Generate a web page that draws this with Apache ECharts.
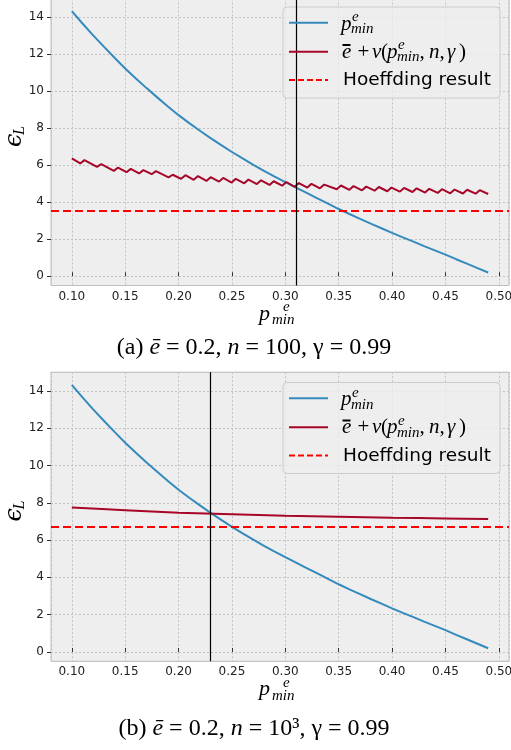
<!DOCTYPE html>
<html><head><meta charset="utf-8">
<script src="https://cdn.jsdelivr.net/npm/echarts@6/dist/echarts.min.js"></script>
<style>html,body{margin:0;padding:0;background:#fff}#c{width:511px;height:750px}</style>
</head><body><div id="c"></div>
<script>
// ---- data ----
const blueX = [0.10,0.11,0.12,0.13,0.14,0.15,0.16,0.17,0.18,0.19,0.20,0.21,0.22,0.23,0.24,0.25,0.26,0.27,0.28,0.29,0.30,0.31,0.32,0.33,0.34,0.35,0.36,0.37,0.38,0.39,0.40,0.41,0.42,0.43,0.44,0.45,0.46,0.47,0.48,0.49];
const blueY = [14.32,13.65,13.01,12.40,11.80,11.22,10.68,10.16,9.66,9.17,8.70,8.27,7.86,7.46,7.08,6.71,6.36,6.02,5.69,5.38,5.08,4.79,4.50,4.21,3.92,3.63,3.36,3.10,2.84,2.59,2.34,2.10,1.87,1.63,1.40,1.17,0.92,0.68,0.44,0.20];

// (a) n = 100 : zig-zag vertices
const redAX = [0.1000,0.1079,0.1118,0.1236,0.1276,0.1394,0.1433,0.1512,0.1552,0.1630,0.1670,0.1748,0.1788,0.1906,0.1945,0.2024,0.2064,0.2142,0.2182,0.2261,0.2300,0.2379,0.2418,0.2497,0.2536,0.2615,0.2655,0.2733,0.2773,0.2852,0.2891,0.2970,0.3009,0.3088,0.3127,0.3206,0.3245,0.3324,0.3364,0.3482,0.3521,0.3600,0.3639,0.3718,0.3758,0.3836,0.3876,0.3955,0.3994,0.4073,0.4112,0.4191,0.4230,0.4309,0.4348,0.4427,0.4467,0.4545,0.4585,0.4664,0.4703,0.4782,0.4821,0.4900];
const redAY = [6.36,6.09,6.27,5.91,6.05,5.69,5.87,5.62,5.80,5.55,5.73,5.51,5.68,5.34,5.48,5.26,5.46,5.21,5.41,5.15,5.35,5.11,5.31,5.06,5.26,5.02,5.22,4.98,5.18,4.93,5.13,4.89,5.09,4.83,5.03,4.79,4.99,4.75,4.95,4.70,4.90,4.67,4.87,4.64,4.84,4.62,4.82,4.59,4.79,4.57,4.77,4.55,4.75,4.52,4.72,4.50,4.70,4.48,4.68,4.47,4.67,4.46,4.65,4.44];

// (b) n = 10^3
const redBX = [0.10,0.15,0.20,0.25,0.30,0.35,0.40,0.45,0.49];
const redBY = [7.75,7.60,7.47,7.39,7.31,7.25,7.20,7.16,7.13];

const hoeffA = 3.55, hoeffB = 6.74;   // Hoeffding result
const vlineA = 0.31, vlineB = 0.231;  // vertical markers
const legendNames = ['p_min^e', 'e + v(p_min^e, n, γ)', 'Hoeffding result'];
const captionA = ['(a) ', 'ē', ' = 0.2, ', 'n', ' = 100, γ = 0.99'];
const captionB = ['(b) ', 'ē', ' = 0.2, ', 'n', ' = 10³, γ = 0.99'];

const BLUE = '#348ABD', DRED = '#A60628', RED = '#ff0000';
const SERIF = '"Liberation Serif"';
const zip = (a, b) => a.map((v, i) => [v, b[i]]);

function xAxisCfg(gi) {
  return {
    type: 'value', gridIndex: gi, min: 0.0805, max: 0.5095, minInterval: 0.05, maxInterval: 0.05,
    axisLine: { show: false },
    axisTick: { show: true, inside: true, length: 4, lineStyle: { color: '#333' } },
    axisLabel: { interval: 0, showMinLabel: false, showMaxLabel: false, margin: 5, hideOverlap: false,
      fontFamily: 'DejaVu Sans', fontSize: 12, color: '#222', formatter: v => v.toFixed(2) },
    splitLine: { show: true, lineStyle: { color: '#c2c2c2', width: 1, type: [2, 2] } }
  };
}
function yAxisCfg(gi) {
  return {
    type: 'value', gridIndex: gi, min: -0.5, max: 15, minInterval: 2, maxInterval: 2,
    axisLine: { show: false },
    axisTick: { show: true, inside: false, length: 4, lineStyle: { color: '#333' } },
    axisLabel: { interval: 0, showMinLabel: false, showMaxLabel: false, margin: 7,
      fontFamily: 'DejaVu Sans', fontSize: 12, color: '#222', formatter: v => String(Math.round(v)) },
    splitLine: { show: true, lineStyle: { color: '#c2c2c2', width: 1, type: [2, 2] } }
  };
}
function markLines(h, v) {
  return {
    silent: true, symbol: ['none', 'none'], label: { show: false }, animation: false,
    data: [
      { yAxis: h, lineStyle: { color: RED, width: 2, type: [8, 4] } },
      { xAxis: v, lineStyle: { color: '#000', width: 1.2, type: 'solid' } }
    ]
  };
}

// --- graphic helpers (legend, labels, captions) ---
function T(x, y, text, font, extra) {
  return Object.assign({ type: 'text', x: x, y: y, z: 10, silent: true,
    style: { text: text, font: font, fill: '#000', align: 'left', verticalAlign: 'middle' } }, extra || {});
}
function legendEls(dy) {
  const e = [];
  e.push({ type: 'rect', z: 1, silent: true, shape: { x: 283, y: 7 + dy, width: 217, height: 91, r: 4 },
    style: { fill: 'rgba(238,238,238,0.8)', stroke: '#cccccc', lineWidth: 1 } });
  const rows = [[22.7, BLUE, null], [51.7, DRED, null], [80, RED, [6, 3]]];
  rows.forEach(r => e.push({ type: 'line', z: 10, silent: true, shape: { x1: 289, y1: r[0] + dy, x2: 328, y2: r[0] + dy },
    style: { stroke: r[1], lineWidth: 2, lineDash: r[2] } }));
  const I = 'italic 21px ' + SERIF, R = '21px ' + SERIF, S = 'italic 15px ' + SERIF;
  // row 1: p^e_min
  e.push(T(341, 24 + dy, 'p', I));
  e.push(T(352, 17.5 + dy, 'e', S));
  e.push(T(351, 29.5 + dy, 'min', S));
  // row 2: e-bar + v(p^e_min, n, γ)
  e.push(T(342, 52 + dy, 'e', I));
  e.push({ type: 'rect', z: 10, silent: true, shape: { x: 342.5, y: 44 + dy, width: 8, height: 2 }, style: { fill: '#000' } });
  e.push(T(357.5, 52 + dy, '+', R));
  e.push(T(372, 52 + dy, 'v', I));
  e.push(T(381, 52 + dy, '(', R));
  e.push(T(387, 52 + dy, 'p', I));
  e.push(T(398, 45.5 + dy, 'e', S));
  e.push(T(397, 57.5 + dy, 'min', S));
  e.push(T(419.5, 52 + dy, ',', R));
  e.push(T(429, 52 + dy, 'n', I));
  e.push(T(439.5, 52 + dy, ',', R));
  e.push(T(447, 52 + dy, 'γ', I));
  e.push(T(459, 52 + dy, ')', R));
  // row 3
  e.push(T(343, 80.5 + dy, legendNames[2], '18.5px "DejaVu Sans"'));
  return e;
}
function xLabelEls(dy) {
  return [
    T(259, 314 + dy, 'p', 'italic 22px ' + SERIF),
    T(283, 307 + dy, 'e', 'italic 15px ' + SERIF),
    T(272, 320 + dy, 'min', 'italic 15px ' + SERIF)
  ];
}
function yLabelEls(dy) {
  return [
    T(14.5, 147 + dy, 'ϵ', 'italic 24px "DejaVu Serif"', { rotation: Math.PI / 2 }),
    T(20, 135 + dy, 'L', 'italic 16px ' + SERIF, { rotation: Math.PI / 2 })
  ];
}
function captionEl(parts, y) {
  const txt = parts.map((p, i) => (i === 1 || i === 3) ? '{i|' + p + '}' : '{n|' + p + '}').join('');
  return { type: 'text', x: 254, y: y, z: 10, silent: true,
    style: { text: txt, align: 'center', verticalAlign: 'middle', fill: '#000',
      rich: { n: { font: '24px ' + SERIF, fill: '#000' }, i: { font: 'italic 24px ' + SERIF, fill: '#000' } } } };
}

const gridBase = { left: 51, width: 458, show: true, backgroundColor: '#eeeeee', borderColor: '#bcbcbc', borderWidth: 1,
  containLabel: false, outerBoundsMode: 'none' };
const option = {
  animation: false,
  backgroundColor: '#ffffff',
  grid: [
    Object.assign({ top: -1.5, height: 287 }, gridBase),
    Object.assign({ top: 372.2, height: 289.1 }, gridBase)
  ],
  xAxis: [xAxisCfg(0), xAxisCfg(1)],
  yAxis: [yAxisCfg(0), yAxisCfg(1)],
  series: [
    { name: legendNames[0], type: 'line', xAxisIndex: 0, yAxisIndex: 0, data: zip(blueX, blueY), showSymbol: false,
      lineStyle: { color: BLUE, width: 2 }, itemStyle: { color: BLUE } },
    { name: legendNames[1], type: 'line', xAxisIndex: 0, yAxisIndex: 0, data: zip(redAX, redAY), showSymbol: false,
      lineStyle: { color: DRED, width: 2 }, itemStyle: { color: DRED }, markLine: markLines(hoeffA, vlineA) },
    { name: legendNames[0], type: 'line', xAxisIndex: 1, yAxisIndex: 1, data: zip(blueX, blueY), showSymbol: false,
      lineStyle: { color: BLUE, width: 2 }, itemStyle: { color: BLUE } },
    { name: legendNames[1], type: 'line', xAxisIndex: 1, yAxisIndex: 1, data: zip(redBX, redBY), showSymbol: false, smooth: 0.3,
      lineStyle: { color: DRED, width: 2 }, itemStyle: { color: DRED }, markLine: markLines(hoeffB, vlineB) }
  ],
  graphic: { elements: [].concat(
    legendEls(0), legendEls(375.5),
    xLabelEls(0), xLabelEls(375.7),
    yLabelEls(0), yLabelEls(374.5),
    [captionEl(captionA, 348), captionEl(captionB, 729)]
  ) }
};
const chart = echarts.init(document.getElementById('c'), null, { renderer: 'canvas' });
chart.setOption(option);
</script></body></html>
